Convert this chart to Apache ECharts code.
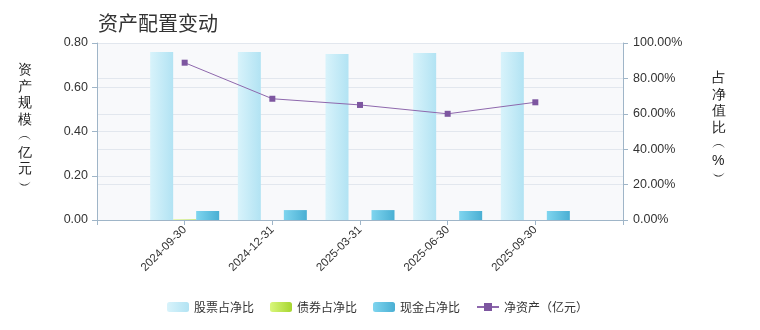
<!DOCTYPE html>
<html>
<head>
<meta charset="utf-8">
<script src="https://cdn.jsdelivr.net/npm/echarts@6/dist/echarts.min.js"></script>
<style>html,body{margin:0;padding:0;background:#fff;}#c{width:760px;height:330px;}</style>
</head>
<body>
<div id="c"></div>
<script>
var categories = ['', '2024-09-30', '2024-12-31', '2025-03-31', '2025-06-30', '2025-09-30', ''];
var stockPct = [null, 94.9, 94.9, 93.8, 94.4, 94.9, null];
var bondPct = [null, 0.3, 0, 0, 0, 0, null];
var cashPct = [null, 5.1, 5.6, 5.6, 5.1, 5.1, null];
var netAsset = [null, 0.711, 0.548, 0.520, 0.480, 0.532, null];
var leftTicks = [0, 0.2, 0.4, 0.6, 0.8];
var rightTicks = [0, 20, 40, 60, 80, 100];

var chart = echarts.init(document.getElementById('c'), null, {renderer: 'canvas'});
function grad(a, b) {
  return new echarts.graphic.LinearGradient(0, 0, 1, 0, [{offset: 0, color: a}, {offset: 1, color: b}]);
}
var axisColor = '#9fb5c8';
var splitColor = '#e2e7ee';
var fontFam = 'Arial, "Liberation Sans", "Noto Sans CJK SC", sans-serif';
var option = {
  animation: false,
  title: {
    text: '资产配置变动', left: 93, top: 8,
    textStyle: {fontSize: 20, fontWeight: 'normal', color: '#333', fontFamily: '"Noto Sans CJK SC", sans-serif'}
  },
  grid: {left: 97, right: 137, top: 43, bottom: 110, show: true, backgroundColor: '#f8f9fb', borderWidth: 0},
  legend: {
    left: 162, top: 296, itemWidth: 22, itemHeight: 10, itemGap: 16,
    textStyle: {fontSize: 12, color: '#333', fontFamily: '"Noto Sans CJK SC", sans-serif'},
    data: ['股票占净比', '债券占净比', '现金占净比', '净资产（亿元）']
  },
  graphic: [
    {type: 'text', left: 18, top: 62, style: {text: '资\n产\n规\n模\n︵\n亿\n元\n︶', fontSize: 14, lineHeight: 16.5, fill: '#222', font: '14px "Noto Sans CJK SC", sans-serif'}},
    {type: 'text', left: 712, top: 70, style: {text: '占\n净\n值\n比\n︵\n%\n︶', fontSize: 14, lineHeight: 16.5, fill: '#222', align: 'center', font: '14px "Noto Sans CJK SC", sans-serif'}}
  ],
  xAxis: {
    type: 'category', boundaryGap: false, data: categories,
    axisLine: {lineStyle: {color: axisColor}},
    axisTick: {show: true, interval: 0, length: 5, lineStyle: {color: axisColor}},
    axisLabel: {interval: 0, rotate: 45, fontSize: 11.5, color: '#333', margin: 8, fontFamily: fontFam},
    splitLine: {show: false}
  },
  yAxis: [
    {
      type: 'value', min: leftTicks[0], max: leftTicks[leftTicks.length - 1], interval: 0.2,
      axisLine: {show: true, lineStyle: {color: axisColor}},
      axisTick: {show: true, length: 5, lineStyle: {color: axisColor}},
      axisLabel: {fontSize: 12.5, color: '#333', margin: 9, fontFamily: fontFam, formatter: function (v) { return v.toFixed(2); }},
      splitLine: {lineStyle: {color: splitColor}}
    },
    {
      type: 'value', min: rightTicks[0], max: rightTicks[rightTicks.length - 1], interval: 20,
      axisLine: {show: true, lineStyle: {color: axisColor}},
      axisTick: {show: true, length: 5, lineStyle: {color: axisColor}},
      axisLabel: {fontSize: 12.5, color: '#333', margin: 10, fontFamily: fontFam, formatter: function (v) { return v.toFixed(2) + '%'; }},
      splitLine: {lineStyle: {color: splitColor}}
    }
  ],
  series: [
    {name: '股票占净比', type: 'bar', yAxisIndex: 1, data: stockPct, barWidth: 23, barGap: '0%', itemStyle: {color: grad('#d8f3fb', '#b2e3f3')}},
    {name: '债券占净比', type: 'bar', yAxisIndex: 1, data: bondPct, barWidth: 23, barGap: '0%', itemStyle: {color: grad('#d9f77c', '#a6d530')}},
    {name: '现金占净比', type: 'bar', yAxisIndex: 1, data: cashPct, barWidth: 23, barGap: '0%', itemStyle: {color: grad('#7fd5ef', '#4aafd3')}},
    {name: '净资产（亿元）', type: 'line', yAxisIndex: 0, data: netAsset, symbol: 'rect', symbolSize: 6,
      lineStyle: {color: '#8e68ad', width: 1}, itemStyle: {color: '#7d56a0'}}
  ]
};
chart.setOption(option);
</script>
</body>
</html>
